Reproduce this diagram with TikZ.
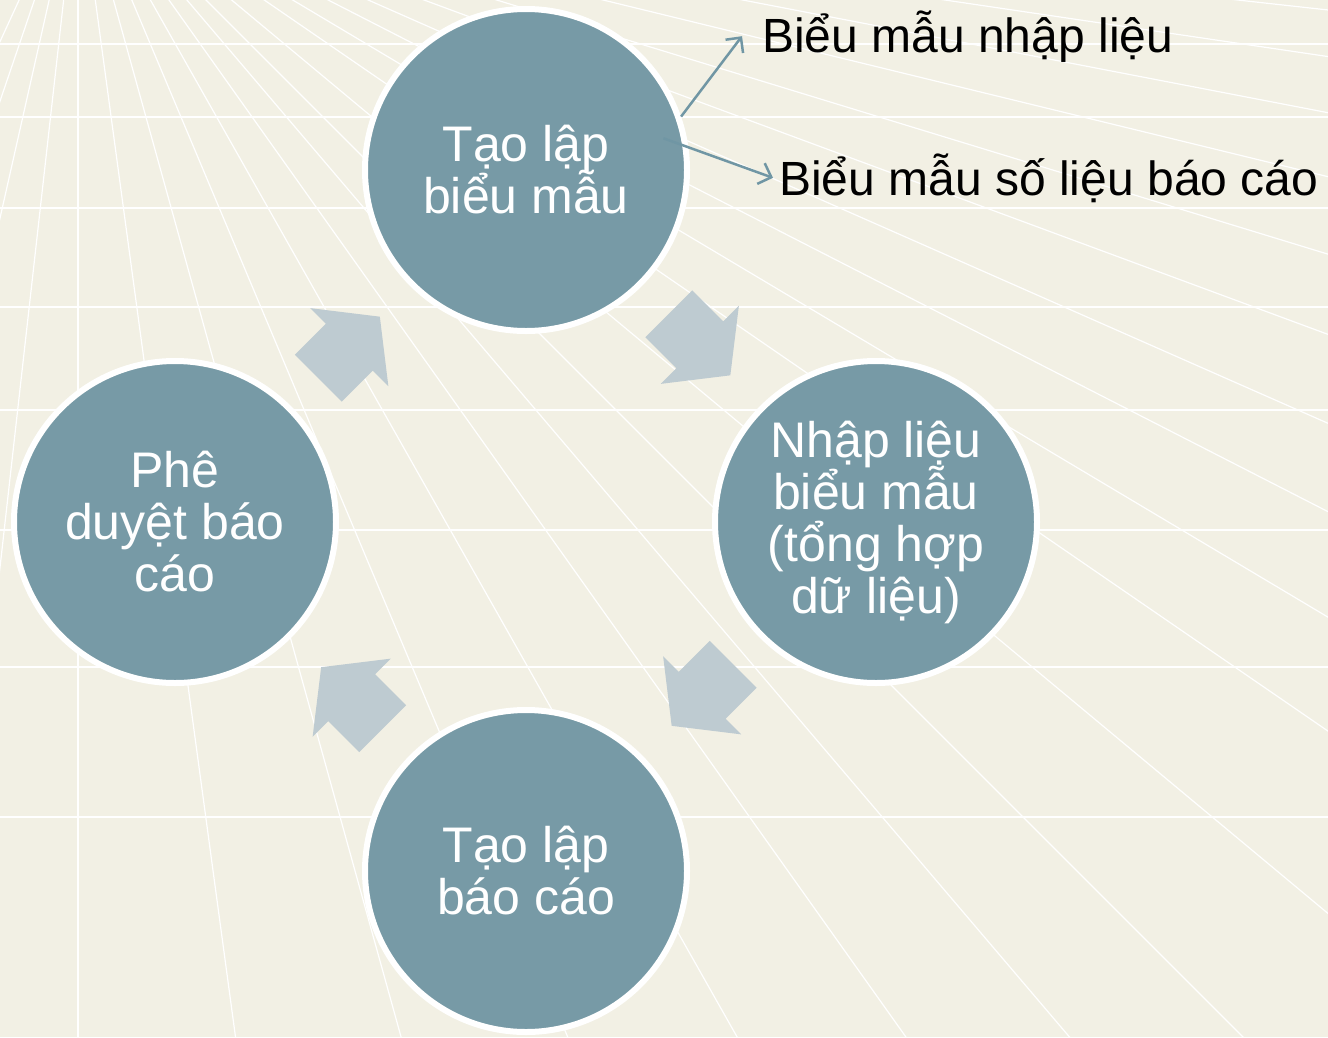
\documentclass[tikz,border=0pt]{standalone}
\usepackage{fontspec}
\setmainfont{Liberation Sans}
\usetikzlibrary{shapes.arrows,arrows.meta,calc}

\definecolor{paper}{RGB}{242,240,228}
\definecolor{stagefill}{RGB}{119,154,166}
\definecolor{flowfill}{RGB}{190,203,209}
\definecolor{linkcol}{RGB}{112,150,164}

\newcommand{\stagefont}{\fontsize{50}{52}\selectfont\lineskiplimit=-\maxdimen}

\tikzset{
	stage/.style={circle, fill=stagefill, draw=white, line width=6pt, minimum size=322pt, inner sep=0pt, text=white, align=center, font=\stagefont},
	flow/.style={single arrow, fill=flowfill, minimum height=87pt, inner xsep=0pt, inner ysep=33pt, single arrow head extend=22pt, single arrow tip angle=104},
	note/.style={font=\fontsize{48}{52}\selectfont, inner sep=0pt, anchor=base west},
	link/.style={draw=linkcol, line width=2.5pt, -{Straight Barb[length=11pt,width=22pt]}},
	grid/.style={white, line width=1.2pt}
}

\begin{document}
\begin{tikzpicture}[x=1pt, y=-1pt]
	\useasboundingbox (0,0) rectangle (1328,1037);
	%background grid
	\begin{scope}
		\clip (0,0) rectangle (1328,1037);
		\fill[paper] (0,0) rectangle (1328,1037);
		\foreach \y in {44, 117, 208, 307, 410, 530, 667, 817}{
			\draw[grid] (0,\y) -- (1328,\y);
		}
		\foreach \a in {-24.7, -18.8, -12.7, -6.4, 0, 7.7, 15.5, 22.8, 29.5, 35.4, 40.4, 45, 50.2, 55.5, 59.2, 62.9, 66.2, 69.7, 73, 76.3, 79.1, 81.6, 83.7, 85.4}{
			\draw[grid] (78,-128) -- ++({90-\a}:2200);
		}
	\end{scope}
	
	%cycle steps
	\node[stage] (make) at (526,170) {Tạo lập\\biểu mẫu};
	\node[stage] (fill) at (876,522) {Nhập liệu\\biểu mẫu\\(tổng hợp\\dữ liệu)};
	\node[stage] (report) at (526,871) {Tạo lập\\báo cáo};
	\node[stage] (approve) at (175,522) {Phê\\duyệt báo\\cáo};
	
	%arrows between steps
	\node[flow, rotate=-45, xshift=-15pt] (a1) at ($(make)!0.5!(fill)$) {};
	\node[flow, rotate=-135, xshift=-15pt] (a2) at ($(fill)!0.5!(report)$) {};
	\node[flow, rotate=135, xshift=-15pt] (a3) at ($(report)!0.5!(approve)$) {};
	\node[flow, rotate=45, xshift=-15pt] (a4) at ($(approve)!0.5!(make)$) {};
	
	%forms
	\node[note] (form1) at (762,52) {Biểu mẫu nhập liệu};
	\node[note] (form2) at (779,195) {Biểu mẫu số liệu báo cáo};
	\draw[link] (make.19) -- ([xshift=-20pt]form1.west);
	\draw[link] ($(make.center)!0.86!(make.13)$) -- ([xshift=-6pt]form2.west);
\end{tikzpicture}
\end{document}
